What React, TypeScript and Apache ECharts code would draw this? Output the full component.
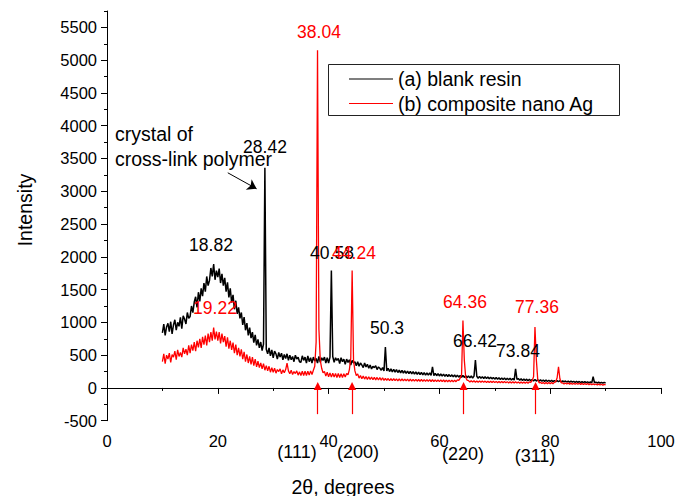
import React, { useEffect, useRef } from "react";
import * as echarts from "echarts";

// 2θ sampling grid of the two XRD traces (degrees)
const ANGLE_START = 10;
const ANGLE_STEP = 0.25;

// (a) blank resin, intensity every 0.25° from 10° to 90°
const blankResin = [
  840, 975, 800, 930, 985, 860, 1010, 825, 960, 1040, 880, 1000, 940, 1075, 905, 1100, 1050, 975, 1150, 1060,
  1090, 1250, 1150, 1310, 1390, 1230, 1460, 1320, 1520, 1400, 1600, 1470, 1700, 1560, 1640, 1830, 1700, 1890, 1650, 1790,
  1690, 1820, 1600, 1740, 1560, 1680, 1470, 1610, 1380, 1520, 1300, 1420, 1200, 1330, 1130, 1230, 1060, 1150, 960, 1080,
  880, 990, 800, 920, 760, 850, 690, 810, 650, 740, 610, 700, 570, 670, 3360, 590, 520, 610, 490, 580,
  460, 560, 520, 440, 540, 470, 530, 430, 510, 450, 520, 420, 500, 430, 480, 400, 500, 440, 470, 400,
  390, 490, 420, 470, 380, 490, 400, 460, 380, 470, 410, 450, 380, 480, 390, 460, 420, 470, 380, 460,
  380, 470, 1790, 480, 390, 460, 420, 450, 370, 460, 400, 440, 360, 440, 390, 430, 350, 420, 380, 400,
  340, 400, 330, 380, 350, 310, 380, 320, 360, 300, 350, 290, 330, 310, 340, 280, 320, 300, 270, 310,
  260, 625, 260, 300, 250, 290, 245, 285, 240, 280, 235, 272, 230, 268, 226, 262, 222, 258, 218, 254,
  214, 250, 210, 246, 206, 242, 202, 238, 198, 234, 196, 230, 194, 228, 192, 320, 188, 222, 186, 218,
  182, 214, 180, 210, 176, 206, 174, 204, 172, 200, 170, 198, 166, 196, 164, 192, 162, 190, 160, 188,
  156, 184, 154, 182, 152, 180, 425, 178, 148, 176, 146, 172, 144, 170, 142, 166, 140, 164, 138, 160,
  134, 158, 132, 156, 130, 152, 128, 150, 126, 148, 124, 146, 122, 144, 120, 290, 130, 142, 118, 140,
  114, 136, 112, 134, 110, 132, 108, 130, 106, 128, 104, 126, 104, 124, 102, 122, 100, 120, 98, 118,
  98, 116, 96, 114, 95, 112, 94, 110, 92, 108, 92, 106, 90, 104, 89, 102, 88, 100, 86, 99,
  84, 98, 82, 96, 80, 95, 80, 94, 78, 92, 78, 170, 76, 90, 75, 88, 74, 86, 72, 84, 76,
];

// (b) composite nano Ag, intensity every 0.25° from 10° to 90°
const compositeAg = [
  400, 520, 370, 500, 440, 530, 390, 510, 470, 560, 430, 580, 480, 540, 470, 610, 520, 590, 500, 650,
  530, 660, 570, 700, 560, 720, 620, 750, 610, 780, 660, 800, 650, 830, 700, 850, 720, 920, 740, 860,
  720, 850, 680, 830, 700, 790, 630, 770, 600, 720, 580, 690, 530, 660, 500, 610, 480, 590, 440, 550,
  400, 510, 380, 480, 360, 470, 340, 440, 320, 410, 310, 380, 290, 370, 270, 340, 260, 330, 240, 310,
  240, 300, 225, 280, 250, 290, 215, 275, 230, 280, 380, 260, 215, 270, 205, 250, 220, 260, 195, 245,
  190, 255, 190, 255, 190, 255, 195, 260, 205, 270, 330, 700, 5150, 900, 420, 300, 230, 250, 180, 240,
  170, 230, 165, 225, 165, 220, 160, 220, 160, 215, 160, 215, 165, 220, 200, 280, 450, 1790, 420, 260,
  190, 215, 150, 190, 140, 180, 135, 175, 130, 170, 128, 166, 125, 162, 122, 160, 120, 158, 118, 155,
  116, 146, 114, 144, 112, 142, 111, 140, 110, 139, 109, 138, 108, 137, 107, 136, 106, 135, 105, 134,
  104, 132, 103, 131, 102, 130, 101, 129, 100, 128, 100, 127, 99, 126, 98, 125, 98, 124, 97, 123,
  96, 122, 95, 121, 94, 120, 94, 119, 93, 118, 92, 118, 95, 122, 115, 150, 200, 1030, 420, 160,
  118, 112, 90, 110, 89, 108, 88, 107, 87, 106, 86, 105, 85, 104, 84, 103, 83, 102, 82, 101,
  81, 100, 80, 99, 79, 98, 78, 97, 77, 96, 76, 95, 75, 94, 74, 93, 73, 92, 72, 91,
  71, 90, 70, 89, 72, 92, 85, 115, 170, 930, 430, 130, 78, 86, 66, 84, 65, 83, 64, 82,
  63, 81, 65, 85, 95, 155, 320, 140, 78, 76, 60, 75, 59, 74, 58, 73, 57, 72, 56, 71,
  55, 70, 54, 69, 53, 68, 52, 66, 50, 64, 49, 62, 48, 60, 46, 58, 44, 56, 42, 54, 46,
];

const seriesNames = ["(a) blank resin", "(b) composite nano Ag"];

const yTickValues = [-500, 0, 500, 1000, 1500, 2000, 2500, 3000, 3500, 4000, 4500, 5000, 5500];

// Ag reflections marked with arrows, and their Miller indices
const agReflections = [38.04, 44.24, 64.36, 77.36];
const hklLabels = ["(111)", "(200)", "(220)", "(311)"];

// peak position labels
const blankPeakLabels = ["18.82", "28.42", "40.58", "50.3", "66.42", "73.84"];
const agPeakLabels = ["19.22", "38.04", "44.24", "64.36", "77.36"];

const annotationLines = ["crystal of", "cross-link polymer"];

// ---------- layout (pixels) ----------
const FONT = '"Liberation Sans", Arial, Helvetica, sans-serif';
const BLANK_LABEL_POS = [[211, 245], [265, 147], [332, 253], [387, 328], [475, 341], [518, 351]];
const AG_LABEL_POS = [[215, 308], [319, 32], [354, 253], [465, 302], [537, 307]];
const HKL_POS = [[297, 452], [358, 452], [463, 454], [535, 456]];
const ANNOT_POS = [[115, 134], [115, 159]];

const toPairs = (vals: number[]) => vals.map((v, i) => [ANGLE_START + i * ANGLE_STEP, v]);

const txt = (text: string, x: number, y: number, fill: string, fontSize: number, align = "center", rotation = 0) => ({
  type: "text",
  x,
  y,
  rotation,
  silent: true,
  z: 100,
  style: { text, fill, fontSize, fontFamily: FONT, align, verticalAlign: "middle", textAlign: align, textVerticalAlign: "middle" },
});

export default function App() {
  const ref = useRef<HTMLDivElement>(null);
  useEffect(() => {
    if (!ref.current) return;
    document.body.style.margin = "0";
    const chart = echarts.init(ref.current, null, { renderer: "svg" });

    const graphic: any[] = [
      {
        type: "rect",
        silent: true,
        shape: { x: 328.5, y: 64.5, width: 291, height: 51 },
        style: { fill: "none", stroke: "#222", lineWidth: 1 },
      },
      txt("Intensity", 25, 210, "#000", 19.5, "center", Math.PI / 2),
      txt("2θ, degrees", 343, 487, "#000", 19.5),
      ...annotationLines.map((t, i) => txt(t, ANNOT_POS[i][0], ANNOT_POS[i][1], "#000", 19.5, "left")),
      ...hklLabels.map((t, i) => txt(t, HKL_POS[i][0], HKL_POS[i][1], "#000", 18)),
      ...blankPeakLabels.map((t, i) => txt(t, BLANK_LABEL_POS[i][0], BLANK_LABEL_POS[i][1], "#000", 17.5)),
      ...agPeakLabels.map((t, i) => txt(t, AG_LABEL_POS[i][0], AG_LABEL_POS[i][1], "#ff0000", 17.5)),
    ];

    const option: any = {
      animation: false,
      backgroundColor: "#ffffff",
      textStyle: { fontFamily: FONT },
      grid: { left: 107, right: 15, top: 11, bottom: 75.3, containLabel: false, outerBoundsMode: "none" },
      legend: {
        show: true,
        orient: "vertical",
        left: 349,
        top: 69,
        padding: 0,
        itemGap: 4.5,
        itemWidth: 44,
        itemHeight: 1.2,
        icon: "rect",
        selectedMode: false,
        data: seriesNames,
        textStyle: { fontSize: 19.5, color: "#000", fontFamily: FONT },
      },
      xAxis: {
        type: "value",
        min: 0,
        max: 100,
        interval: 20,
        axisLine: { show: true, lineStyle: { color: "#000", width: 1 } },
        axisTick: { show: true, inside: false, length: 6, lineStyle: { color: "#000", width: 1 } },
        minorTick: { show: true, splitNumber: 2, length: 3, lineStyle: { color: "#000", width: 1 } },
        splitLine: { show: false },
        minorSplitLine: { show: false },
        axisLabel: { margin: 12, fontSize: 16.5, color: "#000", fontFamily: FONT, formatter: (v: number) => String(v) },
      },
      yAxis: [
        {
          type: "value",
          min: -500,
          max: 5750,
          interval: 250,
          position: "left",
          axisLine: { show: true, lineStyle: { color: "#000", width: 1 } },
          axisTick: { show: true, inside: false, length: 3, lineStyle: { color: "#000", width: 1 } },
          axisLabel: { show: false },
          splitLine: { show: false },
        },
        {
          type: "value",
          min: -500,
          max: 5750,
          interval: 500,
          position: "left",
          axisLine: { show: false },
          axisTick: { show: true, inside: false, length: 6, customValues: yTickValues, lineStyle: { color: "#000", width: 1 } },
          axisLabel: {
            show: true,
            customValues: yTickValues,
            margin: 10,
            fontSize: 16.5,
            color: "#000",
            fontFamily: FONT,
            formatter: (v: number) => String(v),
          },
          splitLine: { show: false },
        },
      ],
      series: [
        {
          name: seriesNames[0],
          type: "line",
          yAxisIndex: 0,
          data: toPairs(blankResin),
          symbol: "none",
          showSymbol: false,
          color: "#000000",
          lineStyle: { color: "#000000", width: 1.5 },
          emphasis: { disabled: true },
          silent: true,
          z: 2,
          markLine: {
            silent: true,
            symbol: ["none", "arrow"],
            symbolSize: 9,
            label: { show: false },
            lineStyle: { color: "#000", width: 1, type: "solid" },
            emphasis: { disabled: true },
            data: [[{ coord: [21.8, 3282] }, { coord: [27.0, 3038] }]],
          },
        },
        {
          name: seriesNames[1],
          type: "line",
          yAxisIndex: 0,
          data: toPairs(compositeAg),
          symbol: "none",
          showSymbol: false,
          color: "#ff0000",
          lineStyle: { color: "#ff0000", width: 1.3 },
          emphasis: { disabled: true },
          silent: true,
          z: 3,
          markLine: {
            silent: true,
            symbol: ["none", "triangle"],
            symbolSize: 8,
            label: { show: false },
            lineStyle: { color: "#ff0000", width: 1.2, type: "solid" },
            emphasis: { disabled: true },
            data: agReflections.map((a) => [{ coord: [a, -400] }, { coord: [a, 30] }]),
          },
        },
      ],
      graphic,
    };
    chart.setOption(option);
    return () => chart.dispose();
  }, []);
  return <div ref={ref} style={{ position: "fixed", left: 0, top: 0, width: 676, height: 496 }} />;
}
